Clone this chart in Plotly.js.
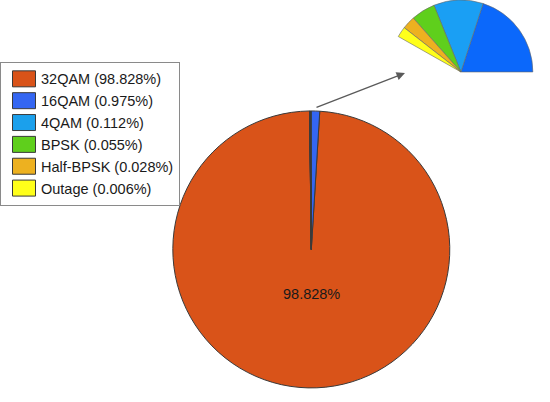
<!DOCTYPE html>
<html>
<head>
<meta charset="utf-8">
<script src="https://cdn.plot.ly/plotly-3.0.1.min.js"></script>
<style>
  html, body { margin: 0; padding: 0; background: #fff; }
  #chart { width: 550px; height: 402px; }
</style>
</head>
<body>
<div id="chart"></div>
<script>
'use strict';

// Share of time spent in each modulation mode (percent)
var modes = ['32QAM', '16QAM', '4QAM', 'BPSK', 'Half-BPSK', 'Outage'];
var shares = [98.828, 0.975, 0.112, 0.055, 0.028, 0.006];
var colors = ['#d95319', '#3466f2', '#1ba0ec', '#5fcf1c', '#edb120', '#ffff1a'];

// Zoomed sector on the top right: angular size of each small slice (deg)
var insetModes = ['16QAM', '4QAM', 'BPSK', 'Half-BPSK', 'Outage'];
var insetAngles = [72, 40, 19.5, 10.5, 8.5];
var insetColors = ['#0b68fb', '#1a9ff4', '#5fcf1c', '#edb120', '#ffff1a'];

var legendLabels, insetValues, insetFill, insetLineW, i, rest, total;

legendLabels = [];
total = 0;
for (i = 0; i < modes.length; i += 1) {
    legendLabels.push(modes[i] + ' (' + shares[i].toFixed(3) + '%)');
    total += shares[i];
}

// the inset is a half-open pie, the rest of the circle is left blank
rest = 360;
insetValues = insetAngles.slice();
for (i = 0; i < insetAngles.length; i += 1) {
    rest -= insetAngles[i];
}
insetValues.push(rest);
insetFill = insetColors.concat(['rgba(0,0,0,0)']);
insetLineW = insetAngles.map(function () { return 0.6; }).concat([0]);

// with counterclockwise direction plotly lays the first slice clockwise from
// 'rotation' and the others counterclockwise from it, so turn by the 16QAM
// slice to keep it just right of 12 o'clock
var mainPie = {
    type: 'pie',
    labels: legendLabels,
    values: shares,
    sort: false,
    direction: 'counterclockwise',
    rotation: 360 * shares[1] / total,
    marker: {colors: colors, line: {color: '#3a3a3a', width: 1}},
    textinfo: 'none',
    hoverinfo: 'label',
    domain: {x: [0.314, 0.818], y: [0.035, 0.724]}
};

// inset: 16QAM starts at 3 o'clock and the rest go up from there
var insetPie = {
    type: 'pie',
    labels: insetModes.concat(['blank']),
    values: insetValues,
    sort: false,
    direction: 'counterclockwise',
    rotation: 90 - insetAngles[0],
    marker: {colors: insetFill, line: {color: '#666', width: insetLineW}},
    textinfo: 'none',
    hoverinfo: 'skip',
    showlegend: false,
    domain: {x: [0.707, 0.969], y: [0.642, 1]}
};

var layout = {
    width: 550,
    height: 402,
    margin: {l: 0, r: 0, t: 0, b: 0},
    paper_bgcolor: '#fff',
    font: {family: 'Liberation Sans, Arial, sans-serif', color: '#1a1a1a'},
    showlegend: true,
    legend: {
        x: 0,
        y: 0.846,
        xanchor: 'left',
        yanchor: 'top',
        bgcolor: '#fff',
        bordercolor: '#8a8a8a',
        borderwidth: 1,
        font: {size: 14.5, color: '#1a1a1a'},
        traceorder: 'normal'
    },
    annotations: [
        {
            xref: 'paper', yref: 'paper',
            x: 311 / 550, y: 1 - 294 / 402,
            xanchor: 'center', yanchor: 'middle',
            text: shares[0].toFixed(3) + '%',
            showarrow: false,
            font: {size: 14.5, color: '#1a1a1a'}
        },
        {
            xref: 'paper', yref: 'paper',
            x: 405 / 550, y: 1 - 73 / 402,
            ax: -90, ay: 35,
            text: '',
            showarrow: true,
            arrowhead: 2,
            arrowsize: 1.3,
            arrowwidth: 1.3,
            arrowcolor: '#5a5a5a'
        }
    ]
};

Plotly.newPlot('chart', [mainPie, insetPie], layout, {displayModeBar: false}).then(function (gd) {
    // wider legend swatches, like the original figure
    var sw = gd.querySelectorAll('.legend path.legendpie');
    for (i = 0; i < sw.length; i += 1) {
        sw[i].setAttribute('d', 'M14.5,8H-8.5V-8H14.5Z');
    }
});
</script>
</body>
</html>
